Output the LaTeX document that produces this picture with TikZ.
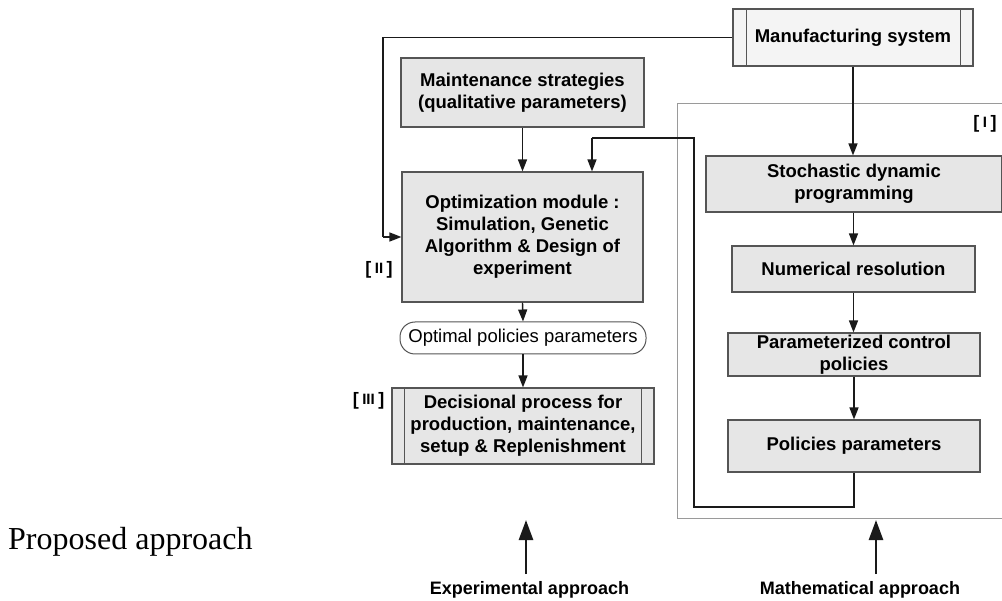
\documentclass[tikz,border=0pt]{standalone}
\usepackage{fontspec}
\setmainfont{Liberation Sans}
\newfontfamily\serifprop{Liberation Serif}
\usetikzlibrary{arrows.meta,calc}
\definecolor{boxfill}{HTML}{E6E6E6}
\definecolor{lightfill}{HTML}{F4F4F4}
\definecolor{boxline}{HTML}{555555}
\definecolor{framecol}{HTML}{9A9A9A}
\definecolor{arrcol}{HTML}{1A1A1A}
\newcommand\smallI[1]{\hspace{3.5pt}\raisebox{1.5pt}{\bfseries\fontsize{15}{15}\selectfont #1}\hspace{3.5pt}}
\begin{document}
\begin{tikzpicture}[x=1pt,y=-1pt,
  box/.style={draw=boxline, fill=boxfill, line width=1.1pt, inner sep=0pt, align=center,
    font=\bfseries\fontsize{18.5}{22}\selectfont},
  lightbox/.style={box, fill=lightfill},
  pill/.style={draw=boxline, fill=white, line width=1pt, rounded corners=15pt, inner sep=0pt,
    align=center, font=\fontsize{18.5}{22}\selectfont},
  arr/.style={draw=arrcol, line width=1.4pt, -{Triangle[length=12pt,width=9pt]}},
  conn/.style={draw=arrcol, line width=1.4pt},
  bigarr/.style={draw=arrcol, line width=2.6pt, -{Triangle[length=20pt,width=14pt]}},
  tag/.style={font=\bfseries\fontsize{18}{18}\selectfont, inner sep=0pt},
  caption/.style={font=\bfseries\fontsize{18}{18}\selectfont, inner sep=0pt},
  framel/.style={draw=framecol, line width=1pt}
]
\useasboundingbox (0,0) rectangle (1002,601);

% frame of the mathematical approach
\draw[framel] (1004,104) -- (677,104) -- (677,519) -- (1004,519);

% nodes
\node[lightbox, minimum width=240pt, minimum height=57pt] (ms) at (853,37.5) {Manufacturing system};
\node[box, minimum width=243pt, minimum height=69pt] (maint) at (522.5,92.5) {Maintenance strategies\\(qualitative parameters)};
\node[box, minimum width=241pt, minimum height=130pt] (opt) at (522.5,237) {Optimization module :\\Simulation, Genetic\\Algorithm \& Design of\\experiment};
\node[pill, minimum width=246pt, minimum height=32pt] (opp) at (523,338) {Optimal policies parameters};
\node[box, minimum width=262pt, minimum height=76pt] (dec) at (523,426) {Decisional process for\\production, maintenance,\\setup \& Replenishment};
\node[box, minimum width=296pt, minimum height=56pt] (sdp) at (854,184) {Stochastic dynamic\\programming};
\node[box, minimum width=243pt, minimum height=46pt] (num) at (853.5,269) {Numerical resolution};
\node[box, minimum width=252pt, minimum height=43pt] (pcp) at (854,354.5) {Parameterized control\\policies};
\node[box, minimum width=252pt, minimum height=52pt] (pp) at (854,446) {Policies parameters};

% double bars
\draw[boxline, line width=1.1pt] ([xshift=14pt]ms.north west) -- ([xshift=14pt]ms.south west);
\draw[boxline, line width=1.1pt] ([xshift=-13pt]ms.north east) -- ([xshift=-13pt]ms.south east);
\draw[boxline, line width=1.1pt] ([xshift=13pt]dec.north west) -- ([xshift=13pt]dec.south west);
\draw[boxline, line width=1.1pt] ([xshift=-13pt]dec.north east) -- ([xshift=-13pt]dec.south east);

% tags
\node[tag] (t1) at (985,124) {[\smallI{I}]};
\node[tag] (t2) at (379,270) {[\smallI{II}]};
\node[tag] (t3) at (368.5,401) {[\smallI{III}]};

% connectors
\coordinate (c1) at (383,237);
\draw[conn] (ms.west) -| (c1);
\draw[arr] (c1) -- (opt.west);
\draw[arr] (ms.south) -- (sdp.north -| ms.south);
\draw[arr] (maint.south) -- (opt.north);
\coordinate (fb1) at (694,507);
\coordinate (fb2) at (592,138);
\draw[conn] (pp.south) |- (fb1) |- (fb2);
\draw[arr] (fb2) -- (fb2 |- opt.north);
\draw[arr] (opt.south) -- (opp.north);
\draw[arr] (opp.south) -- (dec.north);
\draw[arr] (sdp.south -| num.north) -- (num.north);
\draw[arr] (num.south) -- (num.south |- pcp.north);
\draw[arr] (pcp.south) -- (pp.north);

% approaches
\coordinate (ea1) at (526,574);
\coordinate (ea2) at (526,520);
\coordinate (ma1) at (876,574);
\coordinate (ma2) at (876,520);
\draw[bigarr] (ea1) -- (ea2);
\draw[bigarr] (ma1) -- (ma2);
\node[caption] (ex) at (529.5,590) {Experimental approach};
\node[caption] (mt) at (860,590) {Mathematical approach};

\node[anchor=base west, inner sep=0pt, font=\serifprop\fontsize{32}{32}\selectfont] (pa) at (8,549) {Proposed approach};
\end{tikzpicture}
\end{document}
